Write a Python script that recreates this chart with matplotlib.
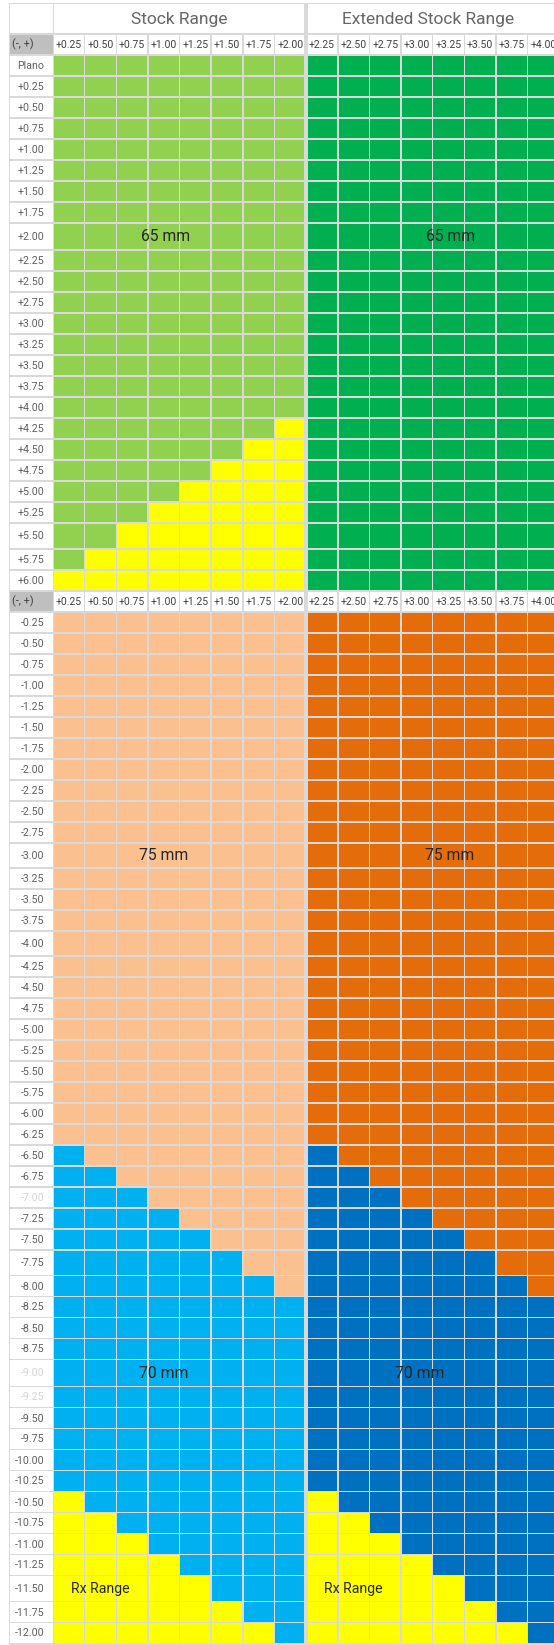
import matplotlib
matplotlib.use("Agg")
import matplotlib.pyplot as plt
from matplotlib.patches import Rectangle

# ---------------- data ----------------
section_titles = ["Stock Range", "Extended Stock Range"]
corner_label = "(-, +)"
col_labels = ["+0.25", "+0.50", "+0.75", "+1.00", "+1.25", "+1.50", "+1.75", "+2.00",
              "+2.25", "+2.50", "+2.75", "+3.00", "+3.25", "+3.50", "+3.75", "+4.00"]

plus_rows = ["Plano", "+0.25", "+0.50", "+0.75", "+1.00", "+1.25", "+1.50", "+1.75",
             "+2.00", "+2.25", "+2.50", "+2.75", "+3.00", "+3.25", "+3.50", "+3.75",
             "+4.00", "+4.25", "+4.50", "+4.75", "+5.00", "+5.25", "+5.50", "+5.75", "+6.00"]
plus_grid = [
    "LLLLLLLLGGGGGGGG",  # Plano
    "LLLLLLLLGGGGGGGG",  # +0.25
    "LLLLLLLLGGGGGGGG",  # +0.50
    "LLLLLLLLGGGGGGGG",  # +0.75
    "LLLLLLLLGGGGGGGG",  # +1.00
    "LLLLLLLLGGGGGGGG",  # +1.25
    "LLLLLLLLGGGGGGGG",  # +1.50
    "LLLLLLLLGGGGGGGG",  # +1.75
    "LLLLLLLLGGGGGGGG",  # +2.00
    "LLLLLLLLGGGGGGGG",  # +2.25
    "LLLLLLLLGGGGGGGG",  # +2.50
    "LLLLLLLLGGGGGGGG",  # +2.75
    "LLLLLLLLGGGGGGGG",  # +3.00
    "LLLLLLLLGGGGGGGG",  # +3.25
    "LLLLLLLLGGGGGGGG",  # +3.50
    "LLLLLLLLGGGGGGGG",  # +3.75
    "LLLLLLLLGGGGGGGG",  # +4.00
    "LLLLLLLYGGGGGGGG",  # +4.25
    "LLLLLLYYGGGGGGGG",  # +4.50
    "LLLLLYYYGGGGGGGG",  # +4.75
    "LLLLYYYYGGGGGGGG",  # +5.00
    "LLLYYYYYGGGGGGGG",  # +5.25
    "LLYYYYYYGGGGGGGG",  # +5.50
    "LYYYYYYYGGGGGGGG",  # +5.75
    "YYYYYYYYGGGGGGGG",  # +6.00
]

minus_rows = ["-0.25", "-0.50", "-0.75", "-1.00", "-1.25", "-1.50", "-1.75", "-2.00",
              "-2.25", "-2.50", "-2.75", "-3.00", "-3.25", "-3.50", "-3.75", "-4.00",
              "-4.25", "-4.50", "-4.75", "-5.00", "-5.25", "-5.50", "-5.75", "-6.00",
              "-6.25", "-6.50", "-6.75", "-7.00", "-7.25", "-7.50", "-7.75", "-8.00",
              "-8.25", "-8.50", "-8.75", "-9.00", "-9.25", "-9.50", "-9.75", "-10.00",
              "-10.25", "-10.50", "-10.75", "-11.00", "-11.25", "-11.50", "-11.75", "-12.00"]
minus_grid = [
    "PPPPPPPPOOOOOOOO",  # -0.25
    "PPPPPPPPOOOOOOOO",  # -0.50
    "PPPPPPPPOOOOOOOO",  # -0.75
    "PPPPPPPPOOOOOOOO",  # -1.00
    "PPPPPPPPOOOOOOOO",  # -1.25
    "PPPPPPPPOOOOOOOO",  # -1.50
    "PPPPPPPPOOOOOOOO",  # -1.75
    "PPPPPPPPOOOOOOOO",  # -2.00
    "PPPPPPPPOOOOOOOO",  # -2.25
    "PPPPPPPPOOOOOOOO",  # -2.50
    "PPPPPPPPOOOOOOOO",  # -2.75
    "PPPPPPPPOOOOOOOO",  # -3.00
    "PPPPPPPPOOOOOOOO",  # -3.25
    "PPPPPPPPOOOOOOOO",  # -3.50
    "PPPPPPPPOOOOOOOO",  # -3.75
    "PPPPPPPPOOOOOOOO",  # -4.00
    "PPPPPPPPOOOOOOOO",  # -4.25
    "PPPPPPPPOOOOOOOO",  # -4.50
    "PPPPPPPPOOOOOOOO",  # -4.75
    "PPPPPPPPOOOOOOOO",  # -5.00
    "PPPPPPPPOOOOOOOO",  # -5.25
    "PPPPPPPPOOOOOOOO",  # -5.50
    "PPPPPPPPOOOOOOOO",  # -5.75
    "PPPPPPPPOOOOOOOO",  # -6.00
    "PPPPPPPPOOOOOOOO",  # -6.25
    "BPPPPPPPDOOOOOOO",  # -6.50
    "BBPPPPPPDDOOOOOO",  # -6.75
    "BBBPPPPPDDDOOOOO",  # -7.00
    "BBBBPPPPDDDDOOOO",  # -7.25
    "BBBBBPPPDDDDDOOO",  # -7.50
    "BBBBBBPPDDDDDDOO",  # -7.75
    "BBBBBBBPDDDDDDDO",  # -8.00
    "BBBBBBBBDDDDDDDD",  # -8.25
    "BBBBBBBBDDDDDDDD",  # -8.50
    "BBBBBBBBDDDDDDDD",  # -8.75
    "BBBBBBBBDDDDDDDD",  # -9.00
    "BBBBBBBBDDDDDDDD",  # -9.25
    "BBBBBBBBDDDDDDDD",  # -9.50
    "BBBBBBBBDDDDDDDD",  # -9.75
    "BBBBBBBBDDDDDDDD",  # -10.00
    "BBBBBBBBDDDDDDDD",  # -10.25
    "YBBBBBBBYDDDDDDD",  # -10.50
    "YYBBBBBBYYDDDDDD",  # -10.75
    "YYYBBBBBYYYDDDDD",  # -11.00
    "YYYYBBBBYYYYDDDD",  # -11.25
    "YYYYYBBBYYYYYDDD",  # -11.50
    "YYYYYYBBYYYYYYDD",  # -11.75
    "YYYYYYYBYYYYYYYD",  # -12.00
]

dim_row_labels = ["-7.00", "-9.00", "-9.25"]

# (row label, column position in column units, text)
annotations = [
    ("+2.00", 3.55, "65 mm"), ("+2.00", 12.58, "65 mm"),
    ("-3.00", 3.50, "75 mm"), ("-3.00", 12.55, "75 mm"),
    ("-9.00", 3.50, "70 mm"), ("-9.00", 11.60, "70 mm"),
    ("-11.50", 1.50, "Rx Range"), ("-11.50", 9.50, "Rx Range"),
]

# ---------------- styles / layout ----------------
palette = {
    "L": "#92d050", "G": "#00b050", "Y": "#ffff00",
    "P": "#fac090", "O": "#e46c0a", "B": "#00b0f0", "D": "#0070c0",
}
tall_rows = {"+2.00": 27, "+5.50": 26, "-3.00": 25, "-4.00": 25,
             "-7.75": 25.7, "-9.00": 27, "-11.50": 26}
W, H = 554, 1645
ROW_H = 21.0
HEADER_H = 30.5
TOP = 3.3
LABEL_X0, LABEL_X1 = 10.0, 52.6
DATA_X0 = 53.0
COL_W = 31.64
GAP = 0.75
GRID = "#d9d9d9"

FONT = ["Liberation Sans Narrow", "Roboto", "DejaVu Sans"]
plt.rcParams["font.family"] = FONT

fig = plt.figure(figsize=(W / 100, H / 100), dpi=100)
ax = fig.add_axes([0, 0, 1, 1])
ax.set_xlim(0, W)
ax.set_ylim(H, 0)
ax.axis("off")

ax.add_patch(Rectangle((LABEL_X0 - 0.8, TOP - 0.8), W, H, facecolor=GRID, edgecolor="none"))


def col_left(i):
    return DATA_X0 + i * COL_W


def col_span(i0, i1):
    l = col_left(i0) + GAP + (1.0 if i0 == 8 else 0)
    r = col_left(i1 + 1) - GAP - (1.0 if i1 == 7 else 0)
    return l, r


def cell(x0, x1, y, h, color):
    ax.add_patch(Rectangle((x0, y + GAP), x1 - x0, h - 2 * GAP,
                           facecolor=color, edgecolor="none"))


y = TOP
# title row
cell(LABEL_X0, LABEL_X1, y, HEADER_H, "white")
for k, title in enumerate(section_titles):
    l, r = col_span(8 * k, 8 * k + 7)
    cell(l, r, y, HEADER_H, "white")
title_pos = [4.0, 11.86]
for k, title in enumerate(section_titles):
    ax.text(DATA_X0 + title_pos[k] * COL_W, y + HEADER_H / 2 + 0.5, title,
            ha="center", va="center", fontsize=12.5, color="#666666")
y += HEADER_H


def header_row(y):
    cell(LABEL_X0, LABEL_X1, y, ROW_H, "#bfbfbf")
    ax.text(LABEL_X0 + 2.0, y + ROW_H / 2 + 0.3, corner_label, ha="left", va="center",
            fontsize=7.8, color="#404040")
    for i, lab in enumerate(col_labels):
        l, r = col_span(i, i)
        cell(l, r, y, ROW_H, "white")
        ax.text((col_left(i) + col_left(i + 1)) / 2, y + ROW_H / 2 + 0.3, lab,
                ha="center", va="center", fontsize=7.5, color="#404040")
    return y + ROW_H


row_centers = {}


def body(rows, grid, y):
    for lab, codes in zip(rows, grid):
        h = tall_rows.get(lab, ROW_H)
        cell(LABEL_X0, LABEL_X1, y, h, "white")
        color = "#d4d4d4" if lab in dim_row_labels else "#5f5f5f"
        ax.text(44.0, y + h / 2 + 0.5, lab, ha="right", va="center",
                fontsize=7.7, color=color)
        for i, c in enumerate(codes):
            l, r = col_span(i, i)
            cell(l, r, y, h, palette[c])
        row_centers[lab] = y + h / 2
        y += h
    return y


y = header_row(y)
y = body(plus_rows, plus_grid, y)
y = header_row(y)
y = body(minus_rows, minus_grid, y)

for lab, cpos, txt in annotations:
    ax.text(DATA_X0 + cpos * COL_W, row_centers[lab] + 0.3, txt, ha="center",
            va="center", fontsize=11.3 if "mm" in txt else 10.2, color="#262626")

fig.savefig("out.png", dpi=100)
